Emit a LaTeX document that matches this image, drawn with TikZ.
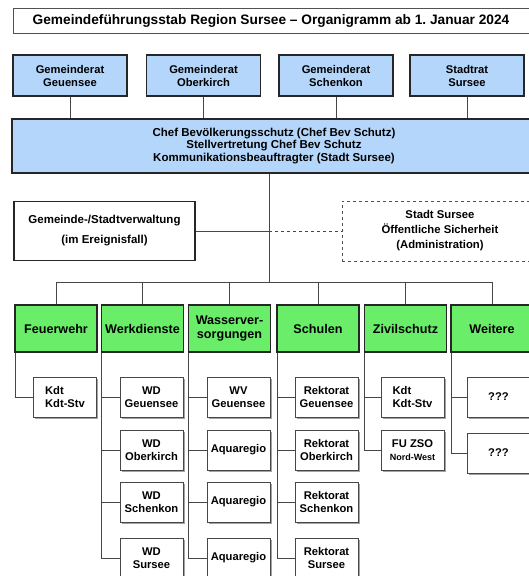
\documentclass[tikz,border=0pt]{standalone}
\usepackage{fontspec}
\setmainfont{Liberation Sans}
\usepackage{tikz}
\usetikzlibrary{shadows}
\definecolor{ratblue}{HTML}{B4D6FA}
\definecolor{dienstgreen}{HTML}{6AEE6A}
\definecolor{rahmen}{HTML}{262626}
\newcommand{\BW}{82}   % width of a green box
\newcommand{\SW}{63}   % width of a sub box
\newcommand{\SH}{40}   % height of a sub box

\begin{document}
\begin{tikzpicture}[x=1pt,y=-1pt,
    every node/.style={font=\bfseries\fontsize{11.2}{13}\selectfont, align=center, inner sep=0pt},
    titlebox/.style={draw=rahmen!80, line width=1pt, minimum width=516pt, minimum height=25pt,
        font=\bfseries\fontsize{13.7}{15}\selectfont},
    ratbox/.style={draw=rahmen, line width=1.2pt, fill=ratblue, minimum width=114pt, minimum height=41pt},
    chefbox/.style={draw=rahmen, line width=1.2pt, fill=ratblue, minimum width=524pt, minimum height=54pt,
        font=\bfseries\fontsize{11.5}{12.6}\selectfont},
    verwbox/.style={draw=rahmen, line width=1.1pt, minimum width=181pt, minimum height=59pt,
        font=\bfseries\fontsize{11.5}{20}\selectfont},
    dashbox/.style={draw=rahmen!80, line width=1pt, dashed, minimum width=196pt, minimum height=60pt,
        font=\bfseries\fontsize{11.3}{15}\selectfont},
    dienst/.style={draw=rahmen, line width=1.7pt, fill=dienstgreen, minimum width=\BW pt, minimum height=47pt,
        font=\bfseries\fontsize{12.6}{14}\selectfont},
    subbox/.style={draw=rahmen!85, line width=1pt, fill=white, minimum width=\SW pt, minimum height=\SH pt,
        drop shadow={shadow xshift=1.5pt, shadow yshift=-1.5pt, fill=black!45, opacity=0.8}},
    link/.style={draw=rahmen!85, line width=0.9pt}]

    \clip (0,0) rectangle (529,576);
    \fill[white] (0,0) rectangle (529,576);

    % title
    \path (271,20.5) node (title) [titlebox] {Gemeindeführungsstab Region Sursee – Organigramm ab 1.\ Januar 2024};

    % the four councils
    \foreach \X/\N/\T in {70/gr1/{Gemeinderat\\Geuensee}, 203.5/gr2/{Gemeinderat\\Oberkirch},
                          336/gr3/{Gemeinderat\\Schenkon}, 467/gr4/{Stadtrat\\Sursee}}{
        \path (\X,75.5) node (\N) [ratbox] {\T};
    }
    \path (274,146) node (chef) [chefbox]
        {Chef Bevölkerungsschutz (Chef Bev Schutz)\\Stellvertretung Chef Bev Schutz\\Kommunikationsbeauftragter (Stadt Sursee)};
    \foreach \N in {gr1,gr2,gr3,gr4}{
        \draw[link] (\N.south) -- (\N |- chef.north);
    }

    \path (104.5,231) node (verw) [verwbox] {Gemeinde-/Stadtverwaltung\\(im Ereignisfall)};
    \path (440,231) node (sich) [dashbox] {Stadt Sursee\\Öffentliche Sicherheit\\(Administration)};

    \coordinate (bus) at (269,282);
    \draw[link] (bus |- chef.south) -- (bus);
    \draw[link] (verw.east) -- (bus |- verw.east);
    \draw[link, dashed] (bus |- verw.east) -- (sich.west);

    % green services
    \foreach \X/\N/\T in {56/fw/Feuerwehr, 142.5/wd/Werkdienste, 229.5/wv/{Wasserver-\\sorgungen},
                          318/sc/Schulen, 405.5/zs/Zivilschutz, 492/wt/Weitere}{
        \path (\X,328.5) node (\N) [dienst] {\T};
        \draw[link] (\N.north) -- (\N |- bus);
    }
    \draw[link] (fw |- bus) -- (wt |- bus);

    % sub units
    \path (65,397) node (fw1) [subbox, align=left] {Kdt\\Kdt-Stv};
    \draw[link] ([xshift=1pt]fw.south west) |- (fw1.west);

    \foreach \Y/\T [count=\i] in {397/{WD\\Geuensee}, 450/{WD\\Oberkirch}, 502/{WD\\Schenkon}, 558/{WD\\Sursee}}{
        \path (151.5,\Y) node (wd\i) [subbox] {\T};
        \draw[link] ([xshift=1pt]wd.south west) |- (wd\i.west);
    }
    \foreach \Y/\T [count=\i] in {397/{WV\\Geuensee}, 450/Aquaregio, 502/Aquaregio, 558/Aquaregio}{
        \path (238.5,\Y) node (wv\i) [subbox] {\T};
        \draw[link] ([xshift=1pt]wv.south west) |- (wv\i.west);
    }
    \foreach \Y/\T [count=\i] in {397/{Rektorat\\Geuensee}, 450/{Rektorat\\Oberkirch}, 502/{Rektorat\\Schenkon}, 558/{Rektorat\\Sursee}}{
        \path (326.5,\Y) node (sc\i) [subbox] {\T};
        \draw[link] ([xshift=1pt]sc.south west) |- (sc\i.west);
    }
    \path (412.5,397) node (zs1) [subbox, align=left] {Kdt\\Kdt-Stv};
    \path (412.5,450) node (zs2) [subbox] {FU ZSO\\{\fontsize{9}{11}\selectfont Nord-West}};
    \foreach \N in {zs1,zs2}{
        \draw[link] ([xshift=1pt]zs.south west) |- (\N.west);
    }
    \foreach \Y [count=\i] in {397,453}{
        \path (498.5,\Y) node (wt\i) [subbox] {???};
        \draw[link] ([xshift=1pt]wt.south west) |- (wt\i.west);
    }

\end{tikzpicture}
\end{document}
